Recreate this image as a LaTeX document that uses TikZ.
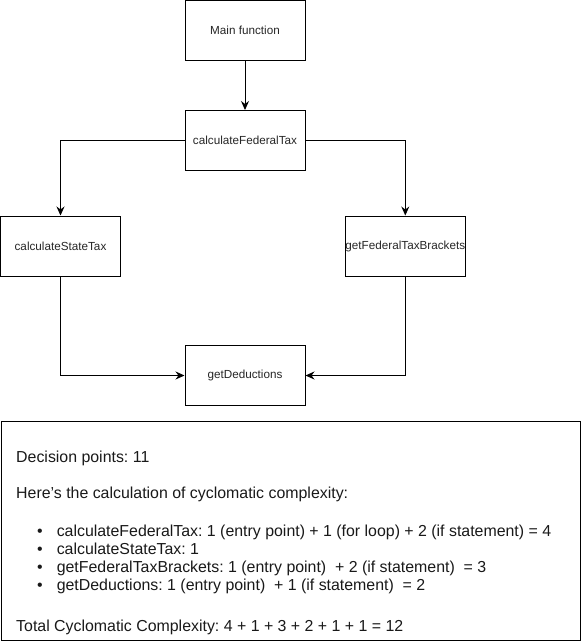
\documentclass[tikz,border=0pt]{standalone}
\usepackage{fontspec}
\setmainfont{Liberation Sans}
\usetikzlibrary{arrows.meta}
\frenchspacing

\begin{document}
\begin{tikzpicture}[x=1pt,y=-1pt,
    func/.style={draw,line width=1pt,minimum width=120pt,minimum height=60pt,inner sep=0pt,
      font=\fontsize{11.7}{14}\selectfont,text=black!85},
    call/.style={line width=1pt,-{Stealth[length=9pt,width=8pt,inset=3pt]}},
    note/.style={align=left,inner sep=0pt,font=\fontsize{15.9}{17.7}\selectfont,text=black!90}]
  \useasboundingbox (0,0) rectangle (581,641);
  \node[func] (main) at (245,30.5) {Main function};
  \node[func] (fed) at (245,140.5) {calculateFederalTax};
  \node[func] (state) at (60.5,246) {calculateStateTax};
  \node[func] (brackets) at (405.3,246) {getFederalTaxBrackets};
  \node[func] (deduct) at (245,375.5) {getDeductions};

  \draw[call] (main) -- (fed);
  \draw[call] (fed.west) -| (state.north);
  \draw[call] (fed.east) -| (brackets.north);
  \draw[call] (state.south) |- (deduct.west);
  \draw[call] (brackets.south) |- (deduct.east);

  % summary of the complexity
  \node[draw,line width=1pt,minimum width=579.5pt,minimum height=219.5pt,inner sep=0pt,
    anchor=north west] (summary) at (0.5,420.5) {};
  \node[note,anchor=base west] (calc) at (16,631) {Decision points: 11\\[18.3pt]
    Here{\char"27}s the calculation of cyclomatic complexity:\\[20.3pt]
    \hspace*{21pt}\textbullet\hspace{14pt}calculateFederalTax: 1 (entry point) + 1 (for loop) + 2 (if statement) = 4\\
    \hspace*{21pt}\textbullet\hspace{14pt}calculateStateTax: 1\\
    \hspace*{21pt}\textbullet\hspace{14pt}getFederalTaxBrackets: 1 (entry point) \ + 2 (if statement) \ = 3\\
    \hspace*{21pt}\textbullet\hspace{14pt}getDeductions: 1 (entry point) \ + 1 (if statement) \ = 2\\[23.3pt]
    Total Cyclomatic Complexity: 4 + 1 + 3 + 2 + 1 + 1 = 12};
\end{tikzpicture}
\end{document}
